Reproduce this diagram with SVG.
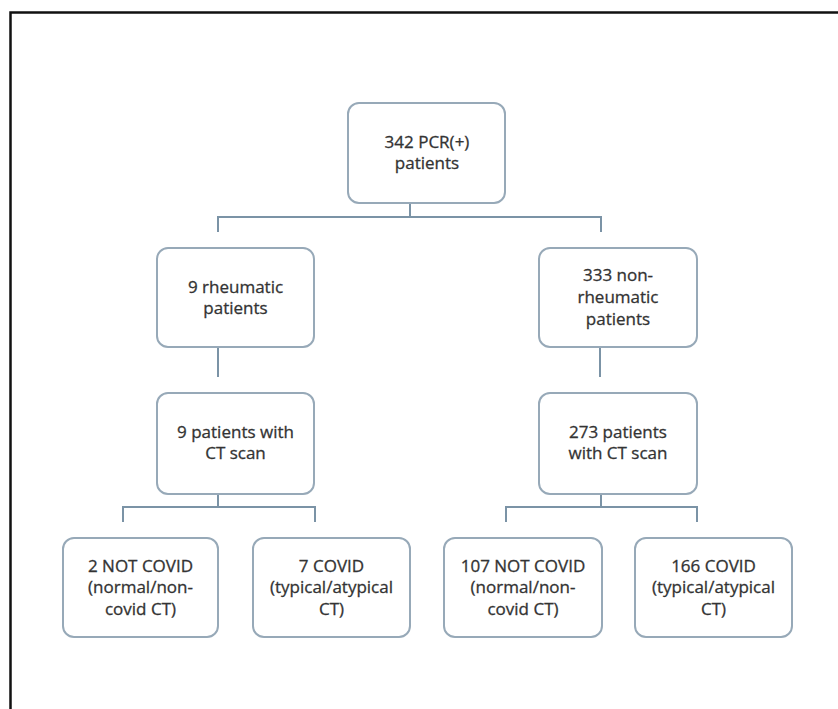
<svg xmlns="http://www.w3.org/2000/svg" width="838" height="709" viewBox="0 0 838 709">
<style>
.box{fill:#fff;stroke:#97a9b8;stroke-width:2}
.lbl{font-family:"Open Sans","Liberation Sans",sans-serif;font-size:17px;fill:#333;stroke:#333;stroke-width:0.3;text-anchor:middle}
.ln{fill:none;stroke:#7b93a6;stroke-width:2}
</style>
<rect width="838" height="709" fill="#fff"/>
<path d="M10.5,709 V12.5 H838" fill="none" stroke="#111" stroke-width="2.5"/>
<g id="connectors">
<path class="ln" d="M410,203 V217 M218,232 V217 H601 V232"/>
<path class="ln" d="M218,347 V377 M600,347 V377"/>
<path class="ln" d="M218,494 V507 M123,522 V507 H315 V522"/>
<path class="ln" d="M601,494 V507 M506,522 V507 H697 V522"/>
</g>
<g id="n1"><rect class="box" x="348" y="103" width="157" height="100" rx="11"/>
<text class="lbl" x="427" y="148">342 PCR(+)</text><text class="lbl" x="427" y="169">patients</text></g>
<g id="n2"><rect class="box" x="157" y="248" width="157" height="99" rx="11"/>
<text class="lbl" x="235.5" y="293">9 rheumatic</text><text class="lbl" x="235.5" y="314">patients</text></g>
<g id="n3"><rect class="box" x="539" y="248" width="158" height="99" rx="11"/>
<text class="lbl" x="618" y="281">333 non-</text><text class="lbl" x="618" y="303">rheumatic</text><text class="lbl" x="618" y="325">patients</text></g>
<g id="n4"><rect class="box" x="157" y="393" width="157" height="101" rx="11"/>
<text class="lbl" x="235.5" y="438">9 patients with</text><text class="lbl" x="235.5" y="459">CT scan</text></g>
<g id="n5"><rect class="box" x="539" y="393" width="158" height="101" rx="11"/>
<text class="lbl" x="618" y="438">273 patients</text><text class="lbl" x="618" y="459">with CT scan</text></g>
<g id="n6"><rect class="box" x="63" y="538" width="155" height="99" rx="11"/>
<text class="lbl" x="140.5" y="572">2 NOT COVID</text><text class="lbl" x="140.5" y="593">(normal/non-</text><text class="lbl" x="140.5" y="615">covid CT)</text></g>
<g id="n7"><rect class="box" x="253" y="538" width="157" height="99" rx="11"/>
<text class="lbl" x="331.5" y="572">7 COVID</text><text class="lbl" x="331.5" y="593">(typical/atypical</text><text class="lbl" x="331.5" y="615">CT)</text></g>
<g id="n8"><rect class="box" x="444" y="538" width="158" height="99" rx="11"/>
<text class="lbl" x="523" y="572">107 NOT COVID</text><text class="lbl" x="523" y="593">(normal/non-</text><text class="lbl" x="523" y="615">covid CT)</text></g>
<g id="n9"><rect class="box" x="635" y="538" width="157" height="99" rx="11"/>
<text class="lbl" x="713.5" y="572">166 COVID</text><text class="lbl" x="713.5" y="593">(typical/atypical</text><text class="lbl" x="713.5" y="615">CT)</text></g>
</svg>
